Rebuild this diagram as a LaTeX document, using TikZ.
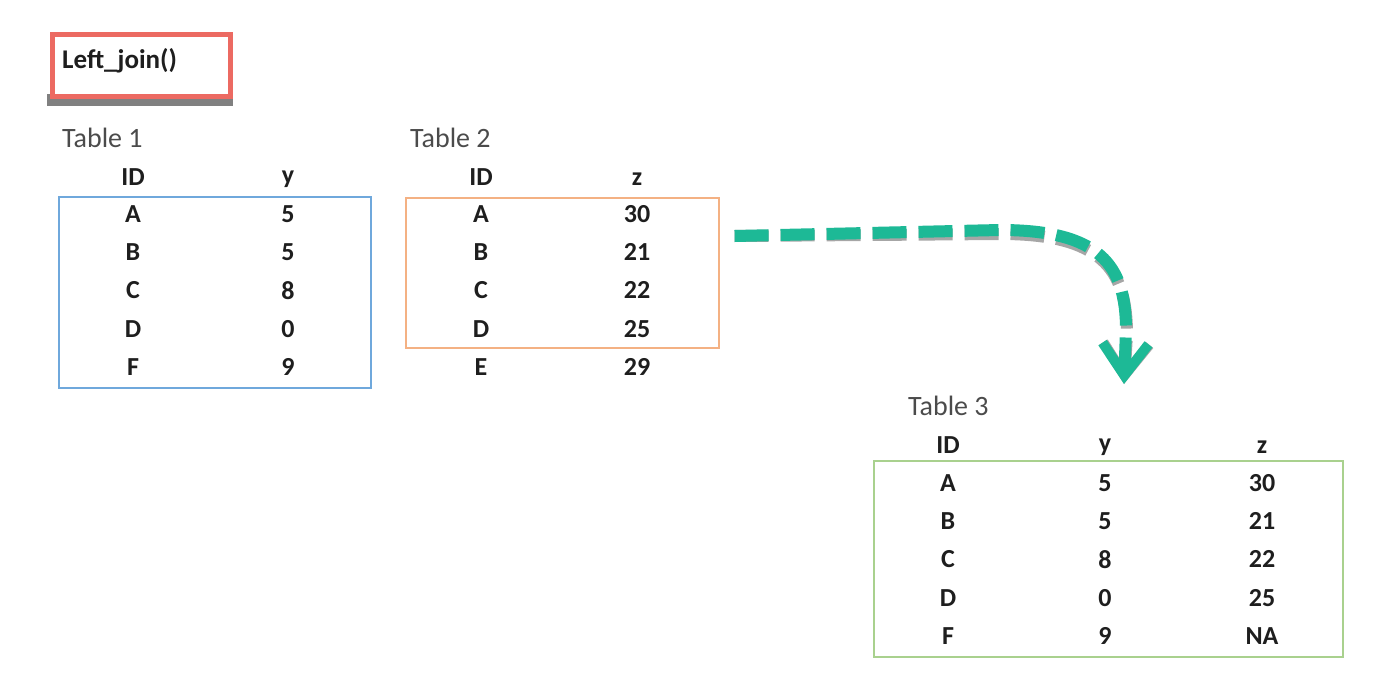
\documentclass[tikz,border=0pt]{standalone}
\usepackage{fontspec}
\setmainfont{Carlito}
\usetikzlibrary{arrows.meta}
\definecolor{tblue}{HTML}{6FA8DC}
\definecolor{torange}{HTML}{F4B183}
\definecolor{tgreen}{HTML}{A9D18E}
\definecolor{tred}{HTML}{EC6A62}
\definecolor{tteal}{HTML}{1DB996}
\definecolor{ttext}{HTML}{1E1E1E}
\begin{document}
\begin{tikzpicture}[x=1pt,y=-1pt,
  cell/.style={font=\fontsize{26}{26}\selectfont\bfseries, text=ttext, inner sep=0pt, anchor=center},
  hdr/.style={font=\fontsize{28}{28}\selectfont, text=ttext!80, inner sep=0pt, anchor=west},
  tbox/.style={line width=1.6pt},
  joinarrow/.style={line width=12pt, dash pattern=on 34pt off 12pt,
    -{Straight Barb[length=32pt,width=46pt,line width=10pt]}}]
\useasboundingbox (0,0) rectangle (1392,696);
% title box
\fill[black!50] (47,94) rectangle (233,106);
\node[draw=tred, line width=5pt, minimum width=178pt, minimum height=62pt, anchor=north west, inner sep=0pt, fill=white] (title) at (50,32) {};
\node[font=\fontsize{27}{27}\selectfont\bfseries, text=ttext, anchor=west, inner sep=0pt] (titletext) at (62,61) {Left\_join()};
% Table 1
\node[hdr] (t1) at (62,138) {Table 1};
\node[cell] (t1hid) at (133,177) {ID};
\node[cell] (t1hy) at (288,179) {y};
\node[draw=tblue, tbox, minimum width=312pt, minimum height=191pt, anchor=north west, inner sep=0pt] (box1) at (58,196) {};
\foreach \i/\a/\b in {0/A/5,1/B/5,2/C/8,3/D/0,4/F/9}{
  \node[cell] (t1id\i) at (133,214+38.2*\i) {\a};
  \node[cell] (t1y\i) at (288,214+38.2*\i) {\b};
}
% Table 2
\node[hdr] (t2) at (410,138) {Table 2};
\node[cell] (t2hid) at (481,177) {ID};
\node[cell] (t2hz) at (637,179) {z};
\node[draw=torange, tbox, minimum width=313pt, minimum height=150pt, anchor=north west, inner sep=0pt] (box2) at (405,197) {};
\foreach \i/\a/\b in {0/A/30,1/B/21,2/C/22,3/D/25,4/E/29}{
  \node[cell] (t2id\i) at (481,214+38.2*\i) {\a};
  \node[cell] (t2z\i) at (637,214+38.2*\i) {\b};
}
% Table 3
\node[hdr] (t3) at (908,406) {Table 3};
\node[cell] (t3hid) at (948,445) {ID};
\node[cell] (t3hy) at (1105,447) {y};
\node[cell] (t3hz) at (1262,447) {z};
\node[draw=tgreen, tbox, minimum width=469pt, minimum height=196pt, anchor=north west, inner sep=0pt] (box3) at (873,460) {};
\foreach \i/\a/\b/\c in {0/A/5/30,1/B/5/21,2/C/8/22,3/D/0/25,4/F/9/NA}{
  \node[cell] (t3id\i) at (948,483+38.2*\i) {\a};
  \node[cell] (t3y\i) at (1105,483+38.2*\i) {\b};
  \node[cell] (t3z\i) at (1262,483+38.2*\i) {\c};
}
% arrow
\coordinate (as) at ([shift={(15,39)}]box2.north east);
\coordinate (ae) at (1124,384);
\draw[black!35, joinarrow, shift={(1,4)}]
  (as) -- (1000,230) .. controls (1100,230) and (1126,265) .. (1126,330) -- (ae);
\draw[tteal, joinarrow]
  (as) -- (1000,230) .. controls (1100,230) and (1126,265) .. (1126,330) -- (ae);
\end{tikzpicture}
\end{document}
